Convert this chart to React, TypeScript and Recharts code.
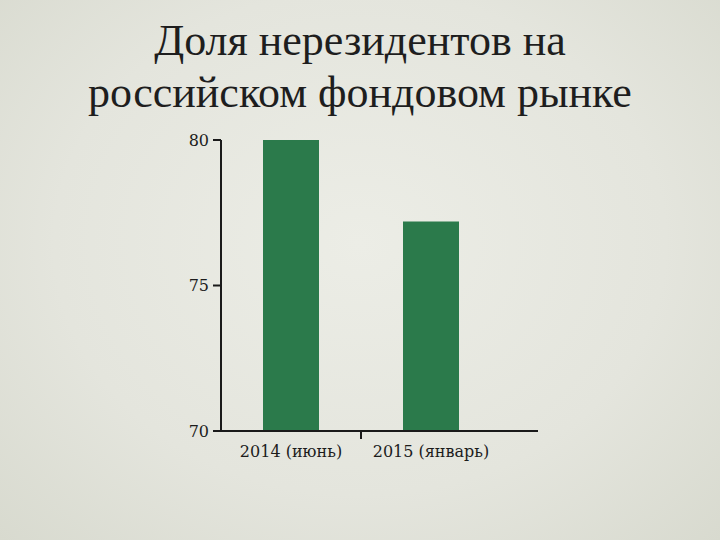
import { BarChart, Bar, XAxis, YAxis, Cell } from "recharts";

const categories = ["2014 (июнь)", "2015 (январь)"];
const shares = [80, 77.2];
const yTicks = [70, 75, 80];
const titleLines = ["Доля нерезидентов на", "российском фондовом рынке"];

const data = categories.map((name, i) => ({ name, value: shares[i] }));

const BAND = 140;

function XTick(props: any) {
  const { x, y, payload, index } = props;
  return (
    <g>
      <text
        x={x}
        y={y + 18}
        textAnchor="middle"
        fill="#1c1c1c"
        fontSize={16}
        fontFamily="DejaVu Serif"
      >
        {payload.value}
      </text>
      {index === 0 && (
        <line x1={x + BAND / 2} x2={x + BAND / 2} y1={y - 8} y2={y} stroke="#1a1a1a" strokeWidth={2} />
      )}
    </g>
  );
}

export default function App() {
  return (
    <div
      style={{
        position: "absolute",
        left: 0,
        top: 0,
        width: 720,
        height: 540,
        background: "radial-gradient(ellipse at 50% 45%, #ecede6 0%, #e4e5dd 60%, #d8dacf 100%)",
        overflow: "hidden",
      }}
    >
      <div
        style={{
          position: "absolute",
          top: 15,
          left: 0,
          width: 720,
          textAlign: "center",
          fontFamily: "Liberation Serif",
          fontSize: 44,
          lineHeight: "52px",
          color: "#1e1e1e",
        }}
      >
        {titleLines.map((l) => (
          <div key={l}>{l}</div>
        ))}
      </div>
      <BarChart
        width={720}
        height={540}
        data={data}
        margin={{ top: 140, right: 182, bottom: 0, left: 0 }}
        style={{ position: "absolute", left: 0, top: 0 }}
      >
        <XAxis
          dataKey="name"
          axisLine={{ stroke: "#1a1a1a", strokeWidth: 2 }}
          tickLine={false}
          tick={<XTick />}
          padding={{ left: 0, right: 37 }}
          interval={0}
          height={109}
        />
        <YAxis
          domain={[70, 80]}
          ticks={yTicks}
          width={221}
          axisLine={{ stroke: "#1a1a1a", strokeWidth: 2 }}
          tickLine={{ stroke: "#1a1a1a", strokeWidth: 2 }}
          tickSize={8}
          tickMargin={4}
          tick={{ fill: "#1c1c1c", fontSize: 16, fontFamily: "DejaVu Serif" }}
          allowDataOverflow
        />
        <Bar dataKey="value" barSize={56} isAnimationActive={false}>
          {data.map((d) => (
            <Cell key={d.name} fill="#2b7a4b" />
          ))}
        </Bar>
      </BarChart>
    </div>
  );
}
